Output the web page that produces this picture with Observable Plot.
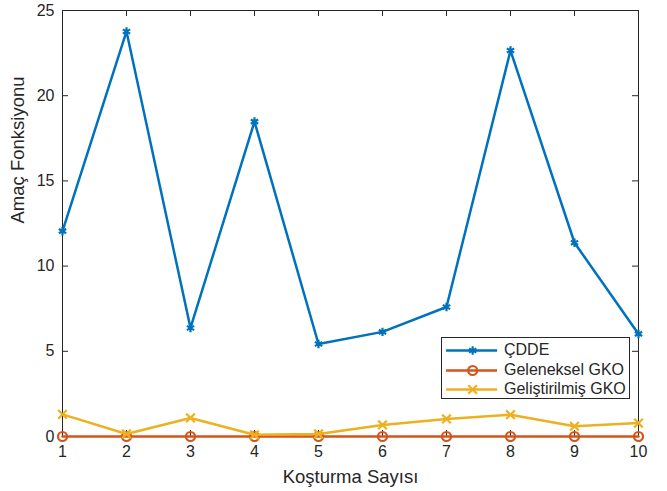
<!DOCTYPE html>
<html>
<head>
<meta charset="utf-8">
<script src="https://cdn.jsdelivr.net/npm/d3@7"></script>
<script src="https://cdn.jsdelivr.net/npm/@observablehq/plot@0.6"></script>
<style>
  html, body { margin: 0; padding: 0; background: #fff; }
  #wrap { position: relative; width: 667px; height: 491px; font-family: "Liberation Sans", Arial, sans-serif; }
  #legend { position: absolute; left: 441px; top: 337px; width: 187px; height: 60px; border: 1px solid #262626; background: #fff; font-size: 16px; color: #262626; }
  .row { position: absolute; left: 0; height: 20px; display: flex; align-items: center; }
  .row svg { display: block; }
  .row span { margin-left: 4px; white-space: nowrap; }
</style>
</head>
<body>
<div id="wrap"></div>
<script>
const runs = [1, 2, 3, 4, 5, 6, 7, 8, 9, 10];
const cdde = [12.05, 23.77, 6.37, 18.48, 5.43, 6.14, 7.6, 22.65, 11.37, 6.02];
const geleneksel = [0, 0, 0, 0, 0, 0, 0, 0, 0, 0];
const gelistirilmis = [1.3, 0.15, 1.09, 0.1, 0.15, 0.68, 1.03, 1.28, 0.6, 0.79];
const seriesNames = ["ÇDDE", "Geleneksel GKO", "Geliştirilmiş GKO"];
const seriesColors = ["#0072BD", "#D95319", "#EDB120"];
const seriesSymbols = ["asterisk", "circle", "times"];
const xTicks = [1, 2, 3, 4, 5, 6, 7, 8, 9, 10];
const yTicks = [0, 5, 10, 15, 20, 25];
const xLabel = "Koşturma Sayısı";
const yLabel = "Amaç Fonksiyonu";

const W = 667, H = 491;
const M = {top: 10, right: 29, bottom: 55, left: 62};
const pw = W - M.left - M.right, ph = H - M.top - M.bottom;
const tk = 6;

const allSeries = [cdde, geleneksel, gelistirilmis];
const data = allSeries.map((vals, i) => runs.map((r, j) => ({run: r, value: vals[j], series: seriesNames[i]})));

const axisColor = "#262626";
const marks = [
  Plot.frame({stroke: axisColor, strokeWidth: 1}),
  Plot.axisX(xTicks, {tickSize: 0, tickPadding: 9, tickFormat: d => String(d), label: null, fontSize: 16, fill: axisColor}),
  Plot.axisY(yTicks, {tickSize: 0, tickPadding: 8, tickFormat: d => String(d), label: null, fontSize: 16, fill: axisColor}),
  // inward ticks
  Plot.tickX(xTicks, {x: d => d, insetTop: ph - tk, stroke: axisColor}),
  Plot.tickX(xTicks, {x: d => d, insetBottom: ph - tk, stroke: axisColor}),
  Plot.tickY(yTicks, {y: d => d, insetRight: pw - tk, stroke: axisColor}),
  Plot.tickY(yTicks, {y: d => d, insetLeft: pw - tk, stroke: axisColor}),
  Plot.text([xLabel], {frameAnchor: "bottom", dy: 41, text: d => d, fontSize: 18.5, fill: axisColor, lineAnchor: "middle"}),
  Plot.text([yLabel], {frameAnchor: "left", dx: -44, rotate: -90, text: d => d, fontSize: 18.5, fill: axisColor, lineAnchor: "middle"})
];
data.forEach((d, i) => {
  marks.push(Plot.line(d, {x: "run", y: "value", stroke: seriesColors[i], strokeWidth: 2.5}));
  marks.push(Plot.dot(d, {x: "run", y: "value", stroke: seriesColors[i], symbol: seriesSymbols[i], r: i === 1 ? 4.5 : 4, strokeWidth: 2.2, fill: "none"}));
});

const chart = Plot.plot({
  width: W, height: H,
  marginTop: M.top, marginRight: M.right, marginBottom: M.bottom, marginLeft: M.left,
  x: {domain: [1, 10]},
  y: {domain: [0, 25]},
  style: {fontFamily: "'Liberation Sans', Arial, sans-serif", fontSize: "16px", color: axisColor, background: "#fff", overflow: "visible"},
  marks
});
const wrap = document.getElementById("wrap");
wrap.appendChild(chart);

// legend
const legend = document.createElement("div");
legend.id = "legend";
seriesNames.forEach((name, i) => {
  const row = document.createElement("div");
  row.className = "row";
  row.style.top = (2 + i * 19.5) + "px";
  const sw = Plot.plot({
    width: 58, height: 20, margin: 0,
    x: {domain: [0, 1], axis: null}, y: {domain: [0, 1], axis: null},
    style: {background: "transparent", overflow: "visible"},
    marks: [
      Plot.ruleY([0.5], {x1: 0.07, x2: 0.95, stroke: seriesColors[i], strokeWidth: 2.5}),
      Plot.dot([0.5], {x: 0.52, y: 0.5, stroke: seriesColors[i], symbol: seriesSymbols[i], r: i === 1 ? 4.5 : 4, strokeWidth: 2.2, fill: "none"})
    ]
  });
  row.appendChild(sw);
  const t = document.createElement("span");
  t.textContent = name;
  row.appendChild(t);
  legend.appendChild(row);
});
wrap.appendChild(legend);
</script>
</body>
</html>
